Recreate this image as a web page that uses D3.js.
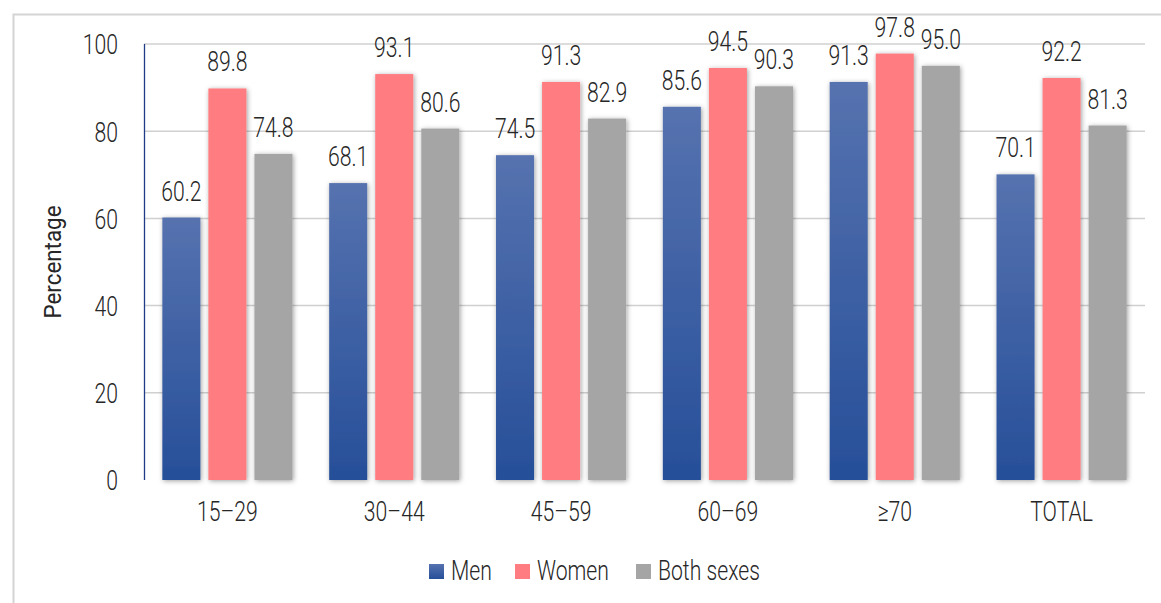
<!DOCTYPE html>
<html>
<head>
<meta charset="utf-8">
<script src="https://cdn.jsdelivr.net/npm/d3@7"></script>
<style>
  html, body { margin: 0; padding: 0; background: #fff; }
  svg { display: block; }
  text { font-family: "Roboto", "Liberation Sans", sans-serif; font-weight: 300; fill: #262626; }
</style>
</head>
<body>
<svg id="chart" width="1161" height="603"></svg>
<script>
// Age groups and share (%) per group
const categories = ["15–29", "30–44", "45–59", "60–69", "≥70", "TOTAL"];
const seriesNames = ["Men", "Women", "Both sexes"];
const men = [60.2, 68.1, 74.5, 85.6, 91.3, 70.1];
const women = [89.8, 93.1, 91.3, 94.5, 97.8, 92.2];
const bothSexes = [74.8, 80.6, 82.9, 90.3, 95.0, 81.3];
const yTicks = [0, 20, 40, 60, 80, 100];

const seriesValues = [men, women, bothSexes];
const fills = ["url(#menGrad)", "#FF7C80", "#A5A5A5"];
const legendFills = ["url(#menGradLegend)", "#FF7C80", "#A5A5A5"];

const FONT = "Roboto, 'Liberation Sans', sans-serif";
const FONT_SIZE = 27.5;
const NARROW = 0.77;

// Narrow the glyphs horizontally to get a condensed look
function condense(sel, factor) {
  sel.each(function () {
    const w = this.getComputedTextLength();
    d3.select(this).attr("textLength", w * factor).attr("lengthAdjust", "spacingAndGlyphs");
  });
}

const svg = d3.select("#chart");
const plot = { left: 144, right: 1145, top: 44, bottom: 480 };

const defs = svg.append("defs");
["menGrad", "menGradLegend"].forEach(id => {
  const g = defs.append("linearGradient").attr("id", id)
    .attr("x1", 0).attr("y1", 0).attr("x2", 0).attr("y2", 1);
  g.append("stop").attr("offset", "0%").attr("stop-color", "#5672AF");
  g.append("stop").attr("offset", "100%").attr("stop-color", "#264F99");
});

const shadow = defs.append("filter").attr("id", "barShadow")
  .attr("x", "-40%").attr("y", "-10%").attr("width", "180%").attr("height", "120%");
shadow.append("feDropShadow").attr("dx", 1).attr("dy", 1)
  .attr("stdDeviation", 2.6).attr("flood-color", "#000").attr("flood-opacity", 0.38);

const axisShadow = defs.append("filter").attr("id", "axisShadow")
  .attr("x", "-5%").attr("y", "-200%").attr("width", "110%").attr("height", "500%");
axisShadow.append("feDropShadow").attr("dx", 0).attr("dy", 1.5)
  .attr("stdDeviation", 1.2).attr("flood-color", "#000").attr("flood-opacity", 0.3);

// Outer chart frame
svg.append("rect")
  .attr("x", 13.5).attr("y", 14.5).attr("width", 1200).attr("height", 700)
  .attr("fill", "none").attr("stroke", "#D4D4D4").attr("stroke-width", 2);

const x0 = d3.scaleBand().domain(categories)
  .range([plot.left, plot.right]).paddingInner(0.22).paddingOuter(0.11);
const x1 = d3.scaleBand().domain(seriesNames)
  .range([0, x0.bandwidth()]).paddingInner(0.174).paddingOuter(0);
const y = d3.scaleLinear().domain([0, 100]).range([plot.bottom, plot.top]);

// Gridlines
svg.append("g")
  .selectAll("line").data(yTicks.filter(t => t > 0)).join("line")
  .attr("x1", plot.left).attr("x2", plot.right)
  .attr("y1", d => y(d)).attr("y2", d => y(d))
  .attr("stroke", "#D0D0D0").attr("stroke-width", 1.5);

// Y tick labels
const yAxis = d3.axisLeft(y).tickValues(yTicks).tickSize(0).tickPadding(26);
const yG = svg.append("g").attr("transform", `translate(${plot.left},0)`).call(yAxis)
  .attr("font-family", FONT).attr("font-size", FONT_SIZE);
yG.select(".domain").remove();
yG.selectAll("text").attr("fill", "#262626")
  .attr("dy", "0.36em").call(condense, NARROW);

// Left axis line
svg.append("line")
  .attr("x1", plot.left + 0.5).attr("x2", plot.left + 0.5)
  .attr("y1", plot.top).attr("y2", plot.bottom)
  .attr("stroke", "#1F3C88").attr("stroke-width", 1.3);

// Bars
const groups = svg.append("g").selectAll("g").data(categories).join("g")
  .attr("transform", d => `translate(${x0(d)},0)`);

const cells = (c, i) => seriesNames.map((s, k) => ({ s, k, v: seriesValues[k][i] }));

groups.selectAll("rect").data(cells).join("rect")
  .attr("x", d => x1(d.s))
  .attr("width", x1.bandwidth())
  .attr("y", d => y(d.v))
  .attr("height", d => y(0) - y(d.v))
  .attr("fill", d => fills[d.k])
  .attr("filter", "url(#barShadow)");

groups.selectAll("text.val").data(cells).join("text").attr("class", "val")
  .attr("x", d => x1(d.s) + x1.bandwidth() / 2)
  .attr("y", d => y(d.v) - 17)
  .attr("text-anchor", "middle")
  .attr("font-size", FONT_SIZE)
  .text(d => d.v.toFixed(1))
  .call(condense, NARROW);

// Bottom axis line
svg.append("line")
  .attr("x1", plot.left).attr("x2", plot.right)
  .attr("y1", plot.bottom).attr("y2", plot.bottom)
  .attr("stroke", "#0E2A6B").attr("stroke-width", 3)
  .attr("filter", "url(#axisShadow)");

// X category labels
const xAxis = d3.axisBottom(x0).tickSize(0).tickPadding(26);
const xG = svg.append("g").attr("transform", `translate(0,${plot.bottom})`).call(xAxis)
  .attr("font-family", FONT).attr("font-size", FONT_SIZE);
xG.select(".domain").remove();
xG.selectAll("text").attr("fill", "#262626")
  .attr("dy", "0.55em").call(condense, NARROW);

// Y axis title
const yTitle = svg.append("text")
  .attr("transform", "translate(61,262) rotate(-90)")
  .attr("text-anchor", "middle")
  .attr("font-size", 23)
  .attr("fill", "#000")
  .style("font-weight", 400)
  .text("Percentage");
yTitle.attr("textLength", 113).attr("lengthAdjust", "spacingAndGlyphs");

// Legend
const legendX = [429, 515, 636];
const legend = svg.append("g").selectAll("g").data(seriesNames).join("g")
  .attr("transform", (d, i) => `translate(${legendX[i]},564)`);
legend.append("rect").attr("width", 15).attr("height", 15)
  .attr("fill", (d, i) => legendFills[i]);
legend.append("text").attr("x", 22).attr("y", 16)
  .attr("font-size", FONT_SIZE).text(d => d)
  .call(condense, NARROW);
</script>
</body>
</html>
